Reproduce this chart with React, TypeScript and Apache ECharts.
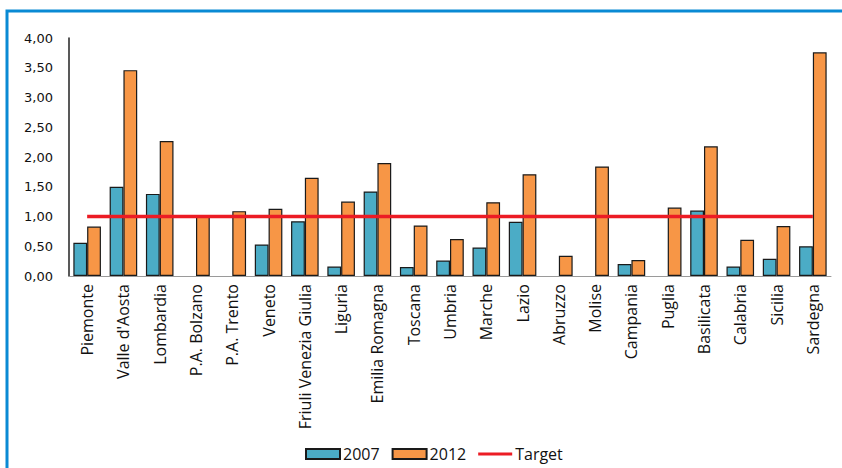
import React, { useEffect, useRef } from "react";
import * as echarts from "echarts";

const categories = [
  "Piemonte", "Valle d'Aosta", "Lombardia", "P.A. Bolzano", "P.A. Trento", "Veneto",
  "Friuli Venezia Giulia", "Liguria", "Emilia Romagna", "Toscana", "Umbria", "Marche",
  "Lazio", "Abruzzo", "Molise", "Campania", "Puglia", "Basilicata", "Calabria", "Sicilia", "Sardegna",
];
const values2007: (number | null)[] = [
  0.56, 1.5, 1.38, null, null, 0.53, 0.92, 0.16, 1.42, 0.15, 0.26, 0.48,
  0.91, null, null, 0.2, null, 1.1, 0.16, 0.29, 0.5,
];
const values2012 = [
  0.83, 3.46, 2.27, 1.0, 1.09, 1.13, 1.65, 1.25, 1.9, 0.85, 0.62, 1.24,
  1.71, 0.34, 1.84, 0.27, 1.15, 2.18, 0.61, 0.84, 3.76,
];
const targetValues = categories.map(() => 1.0);
const seriesNames = ["2007", "2012", "Target"];

export default function App() {
  const ref = useRef<HTMLDivElement>(null);
  useEffect(() => {
    if (!ref.current) return;
    const chart = echarts.init(ref.current, undefined, { renderer: "svg" });
    chart.setOption({
      animation: false,
      backgroundColor: "#ffffff",
      graphic: [
        {
          type: "rect",
          shape: { x: 7, y: 11, width: 900, height: 500 },
          style: { fill: "none", stroke: "#0a8ad4", lineWidth: 3 },
          silent: true,
          z: 100,
        },
      ],
      grid: { left: 69, right: 11, top: 38, bottom: 192, containLabel: false },
      legend: {
        data: [
          { name: seriesNames[0], icon: "rect" },
          { name: seriesNames[1], icon: "rect" },
          { name: seriesNames[2], icon: "path://M0,0H34V3H0Z", itemStyle: { color: "#ec1c24", borderWidth: 0 } },
        ],
        left: 300,
        top: 441,
        itemWidth: 34,
        itemHeight: 10,
        itemGap: 12,
        symbolKeepAspect: true,
        textStyle: { fontFamily: "Open Sans", fontSize: 16, color: "#111", padding: [0, 0, 0, -2] },
      },
      xAxis: {
        type: "category",
        data: categories,
        axisLine: { show: true, lineStyle: { color: "#9a9a9a", width: 1 } },
        axisTick: { show: false },
        axisLabel: {
          rotate: 90,
          interval: 0,
          margin: 8,
          fontFamily: "Open Sans",
          fontSize: 16,
          color: "#111",
        },
      },
      yAxis: {
        type: "value",
        min: 0,
        max: 4,
        interval: 0.5,
        splitLine: { show: false },
        axisLine: { show: true, lineStyle: { color: "#222", width: 1.5 } },
        axisTick: { show: false },
        axisLabel: {
          margin: 16,
          fontFamily: "DejaVu Sans",
          fontSize: 13,
          color: "#111",
          formatter: (v: number) => v.toFixed(2).replace(".", ","),
        },
      },
      series: [
        {
          name: seriesNames[0],
          type: "bar",
          data: values2007,
          barGap: "0%",
          barCategoryGap: "24%",
          itemStyle: { color: "#4bacc6", borderColor: "#1a1a1a", borderWidth: 1.2 },
        },
        {
          name: seriesNames[1],
          type: "bar",
          data: values2012,
          barGap: "0%",
          barCategoryGap: "24%",
          itemStyle: { color: "#f79646", borderColor: "#1a1a1a", borderWidth: 1.2 },
        },
        {
          name: seriesNames[2],
          type: "line",
          data: targetValues,
          symbol: "none",
          lineStyle: { color: "#ec1c24", width: 3.5 },
          itemStyle: { color: "#ec1c24" },
          z: 5,
        },
      ],
    });
    return () => chart.dispose();
  }, []);
  return (
    <div
      ref={ref}
      style={{ position: "fixed", left: 0, top: 0, width: 842, height: 468, background: "#fff" }}
    />
  );
}
